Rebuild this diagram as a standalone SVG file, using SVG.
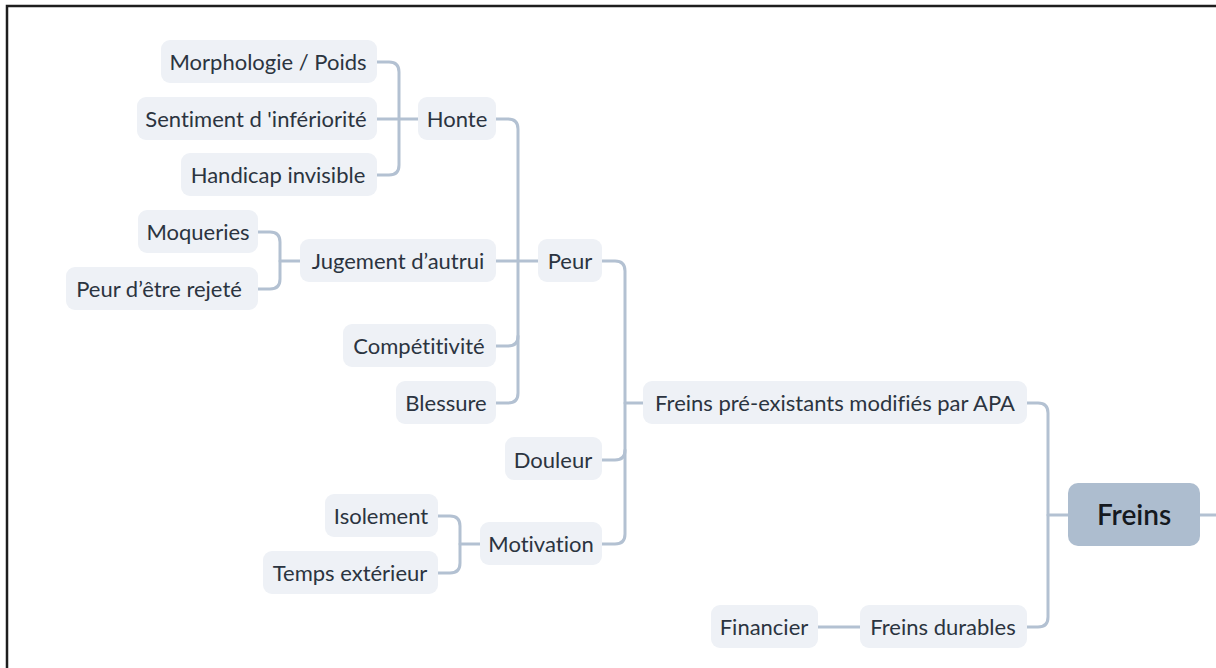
<svg xmlns="http://www.w3.org/2000/svg" width="1216" height="668" viewBox="0 0 1216 668">
<style>
.n rect{fill:#eef1f6}
.n text{font-family:Lato,"Noto Sans",sans-serif;font-size:22px;fill:#2b3440;text-anchor:middle;dominant-baseline:central;font-variant-ligatures:none}
.root rect{fill:#adbdcf}
.root text{font-family:Lato,"Noto Sans",sans-serif;font-size:28px;font-weight:600;fill:#15191f;text-anchor:middle;dominant-baseline:central;font-variant-ligatures:none}
.c path{fill:none;stroke:#b3c1d2;stroke-width:3;stroke-linecap:round}
</style>
<rect x="0" y="0" width="1216" height="668" fill="#ffffff"/>
<path d="M7,668 V6 H1216" fill="none" stroke="#1e1e1e" stroke-width="2.5"/>
<g id="connectors" class="c">
<path d="M377,62 H389 Q399,62 399,72 V165 Q399,175 389,175 H377"/>
<path d="M377,119 H418"/>
<path d="M258,232 H270 Q280,232 280,242 V279 Q280,289 270,289 H258"/>
<path d="M280,261 H300"/>
<path d="M496,119 H508 Q518,119 518,129 V393 Q518,403 508,403 H496"/>
<path d="M496,346 H508 Q518,346 518,336"/>
<path d="M496,261 H538"/>
<path d="M438,516 H450 Q460,516 460,526 V563 Q460,573 450,573 H438"/>
<path d="M460,544 H480"/>
<path d="M602,261 H615 Q625,261 625,271 V534 Q625,544 615,544 H602"/>
<path d="M602,460 H615 Q625,460 625,450"/>
<path d="M625,403 H643"/>
<path d="M1027,403 H1038 Q1048,403 1048,413 V617 Q1048,627 1038,627 H1027"/>
<path d="M1048,515 H1068"/>
<path d="M818,627 H860"/>
<path d="M1200,515 H1218"/>
</g>
<g id="n-morphologie" class="n"><rect x="161" y="40" width="216" height="43" rx="9"/><text x="268" y="61">Morphologie / Poids</text></g>
<g id="n-sentiment" class="n"><rect x="137" y="97" width="240" height="43" rx="9"/><text x="256" y="118">Sentiment d 'infériorité</text></g>
<g id="n-handicap" class="n"><rect x="181" y="153" width="196" height="43" rx="9"/><text x="278" y="174">Handicap invisible</text></g>
<g id="n-honte" class="n"><rect x="418" y="97" width="78" height="43" rx="9"/><text x="457" y="118">Honte</text></g>
<g id="n-moqueries" class="n"><rect x="138" y="210" width="120" height="43" rx="9"/><text x="198" y="231">Moqueries</text></g>
<g id="n-peur-rejete" class="n"><rect x="66" y="267" width="192" height="43" rx="9"/><text x="159" y="288">Peur d’être rejeté</text></g>
<g id="n-jugement" class="n"><rect x="300" y="239" width="196" height="43" rx="9"/><text x="398" y="260">Jugement d’autrui</text></g>
<g id="n-competitivite" class="n"><rect x="343" y="324" width="153" height="43" rx="9"/><text x="419" y="345">Compétitivité</text></g>
<g id="n-blessure" class="n"><rect x="396" y="381" width="100" height="43" rx="9"/><text x="446" y="402">Blessure</text></g>
<g id="n-peur" class="n"><rect x="538" y="239" width="64" height="43" rx="9"/><text x="570" y="260">Peur</text></g>
<g id="n-douleur" class="n"><rect x="505" y="437" width="97" height="43" rx="9"/><text x="553" y="459">Douleur</text></g>
<g id="n-motivation" class="n"><rect x="480" y="522" width="122" height="43" rx="9"/><text x="541" y="543">Motivation</text></g>
<g id="n-isolement" class="n"><rect x="325" y="494" width="113" height="43" rx="9"/><text x="381" y="515">Isolement</text></g>
<g id="n-temps" class="n"><rect x="263" y="551" width="175" height="43" rx="9"/><text x="350" y="572">Temps extérieur</text></g>
<g id="n-freins-pre" class="n"><rect x="643" y="381" width="384" height="43" rx="9"/><text x="835" y="402">Freins pré-existants modifiés par APA</text></g>
<g id="n-freins-durables" class="n"><rect x="860" y="605" width="167" height="43" rx="9"/><text x="943" y="626">Freins durables</text></g>
<g id="n-financier" class="n"><rect x="711" y="605" width="107" height="43" rx="9"/><text x="764" y="626">Financier</text></g>
<g id="n-freins" class="root"><rect x="1068" y="483" width="132" height="63" rx="10"/><text x="1134" y="514">Freins</text></g>
</svg>
